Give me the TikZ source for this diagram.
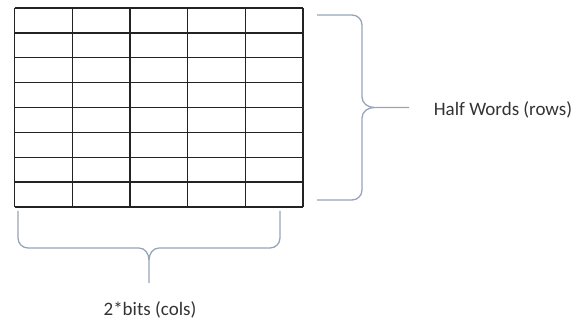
\documentclass[tikz,border=0pt]{standalone}
\usepackage{fontspec}
\setmainfont{Carlito}
\usetikzlibrary{positioning}
\definecolor{bracegray}{RGB}{150,165,185}
\definecolor{gridline}{RGB}{35,35,35}

\begin{document}
\begin{tikzpicture}[x=1pt,y=-1pt,
  cell/.style={draw=gridline,line width=1.4pt},
  brace/.style={draw=bracegray,line width=1.3pt},
  label/.style={font=\fontsize{19}{22}\selectfont,text=black!80}]
\useasboundingbox (0,0) rectangle (574,323);
% array of cells, 5 columns by 8 rows
\foreach \i in {0,...,5}
  \draw[cell] (14.5+57.7*\i,8) -- (14.5+57.7*\i,207);
\foreach \j in {0,...,8}
  \draw[cell] (14.5,8+24.875*\j) -- (303,8+24.875*\j);
\path
  coordinate (rtop) at (317,15)
  coordinate (rtip) at (409,107.5)
  coordinate (rbot) at (317,200)
  coordinate (bleft) at (18,211)
  coordinate (btip) at (149,283)
  coordinate (bright) at (280,211)
  ;
% brace on the right side
\draw[brace]
  (rtop) -- (352,15) to[out=0,in=90]
  (362,25) -- (362,97) to[out=-90,in=180]
  (374,107.5) -- (rtip);
\draw[brace]
  (rbot) -- (352,200) to[out=0,in=-90]
  (362,190) -- (362,118) to[out=90,in=180]
  (374,107.5);
% brace below
\draw[brace]
  (bleft) -- (18,238) to[out=-90,in=180]
  (28,248) -- (139,248) to[out=0,in=90]
  (149,260) -- (btip);
\draw[brace]
  (bright) -- (280,238) to[out=-90,in=0]
  (270,248) -- (159,248) to[out=180,in=90]
  (149,260);
\node[label] (rows) at (503,110) {Half Words (rows)};
\node[label] (cols) at (150,310) {2*bits (cols)};
\end{tikzpicture}
\end{document}
